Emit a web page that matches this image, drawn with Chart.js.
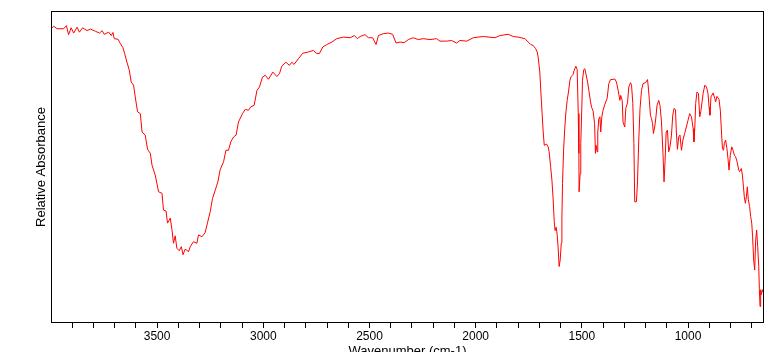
<!DOCTYPE html>
<html>
<head>
<meta charset="utf-8">
<script src="https://cdn.jsdelivr.net/npm/chart.js@4.4.1/dist/chart.umd.min.js"></script>
<style>
  html, body { margin: 0; padding: 0; background: #fff; overflow: hidden; }
  #wrap { position: relative; width: 772px; height: 366px; }
</style>
</head>
<body>
<div id="wrap"><canvas id="ir-chart"></canvas></div>
<script>
// IR spectrum, wavenumber (cm-1)
const wavenumbers = [
    3995, 3987, 3971, 3940, 3927, 3917, 3905, 3893, 3877, 3866,
    3851, 3830, 3814, 3791, 3771, 3759, 3749, 3728, 3716, 3708,
    3702, 3684, 3673, 3661, 3653, 3642, 3631, 3622, 3611, 3603,
    3592, 3579, 3571, 3556, 3545, 3532, 3524, 3509, 3493, 3477,
    3470, 3458, 3451, 3438, 3430, 3423, 3415, 3407, 3396, 3386,
    3378, 3368, 3352, 3344, 3329, 3313, 3305, 3289, 3274, 3263,
    3250, 3239, 3226, 3214, 3203, 3187, 3176, 3164, 3153, 3140,
    3128, 3117, 3098, 3085, 3070, 3059, 3043, 3030, 3018, 3004,
    2991, 2976, 2955, 2936, 2924, 2913, 2894, 2877, 2866, 2855,
    2835, 2814, 2788, 2764, 2751, 2736, 2720, 2701, 2677, 2654,
    2623, 2591, 2571, 2557, 2544, 2521, 2505, 2485, 2469, 2458,
    2435, 2411, 2391, 2375, 2356, 2337, 2317, 2294, 2270, 2247,
    2215, 2184, 2168, 2137, 2113, 2090, 2074, 2042, 2011, 1964,
    1909, 1886, 1847, 1823, 1800, 1768, 1757, 1741, 1729, 1718,
    1710, 1706, 1698, 1693, 1687, 1682, 1677, 1666, 1659, 1654,
    1647, 1641, 1635, 1630, 1626, 1621, 1616, 1612, 1607, 1602,
    1597, 1594, 1591, 1586, 1581, 1575, 1569, 1563, 1556, 1550,
    1541, 1536, 1528, 1522, 1517, 1514, 1513, 1508, 1505, 1500,
    1497, 1491, 1486, 1481, 1473, 1467, 1459, 1454, 1447, 1440,
    1436, 1433, 1428, 1425, 1420, 1415, 1411, 1406, 1400, 1392,
    1381, 1373, 1365, 1358, 1345, 1337, 1329, 1321, 1317, 1310,
    1306, 1298, 1293, 1285, 1279, 1271, 1266, 1260, 1255, 1251,
    1243, 1238, 1232, 1226, 1219, 1212, 1200, 1191, 1188, 1182,
    1177, 1172, 1167, 1163, 1157, 1151, 1146, 1138, 1132, 1125,
    1118, 1113, 1108, 1103, 1097, 1091, 1085, 1078, 1072, 1066,
    1059, 1055, 1050, 1044, 1038, 1031, 1024, 1016, 1008, 1000,
    992, 984, 976, 972, 968, 964, 958, 951, 945, 940,
    934, 929, 921, 913, 906, 901, 897, 892, 882, 874,
    870, 864, 854, 848, 843, 838, 833, 829, 823, 817,
    812, 807, 801, 794, 788, 782, 776, 769, 761, 757,
    749, 744, 739, 735, 730, 725, 721, 716, 710, 705,
    700, 696, 691, 686, 682, 677, 672, 667, 664, 661,
    658, 655, 650, 647
];

// relative absorbance (0-100, top of the frame = 100)
const absorbance = [
    94.9, 95.4, 94.6, 94.6, 95.6, 92.7, 94.9, 93.2, 95.1, 93.5,
    94.9, 94.0, 94.5, 93.8, 93.2, 94.0, 92.8, 93.5, 92.4, 93.4,
    91.4, 91.2, 89.8, 88.5, 86.6, 83.8, 81.2, 77.4, 76.4, 72.6,
    67.8, 67.2, 61.3, 60.3, 55.7, 54.4, 50.6, 47.4, 42.0, 41.5,
    36.1, 35.8, 31.9, 33.5, 29.7, 25.4, 27.8, 23.8, 23.0, 24.3,
    21.7, 23.5, 22.7, 24.3, 25.9, 25.4, 28.1, 27.5, 28.8, 31.9,
    35.6, 39.9, 42.6, 45.2, 49.2, 51.7, 55.4, 55.4, 58.1, 59.7,
    60.3, 64.5, 67.2, 68.6, 68.3, 69.4, 69.9, 74.7, 75.8, 79.0,
    79.6, 78.3, 80.6, 79.2, 80.1, 82.5, 83.8, 82.8, 83.8, 83.1,
    84.9, 86.7, 87.1, 87.6, 86.7, 86.6, 88.7, 89.5, 90.3, 91.4,
    91.9, 91.7, 92.4, 91.4, 92.1, 92.7, 91.7, 91.7, 89.5, 92.4,
    93.0, 93.2, 92.8, 90.0, 90.3, 90.1, 91.1, 91.7, 91.1, 91.4,
    91.1, 91.4, 90.6, 90.6, 90.8, 90.0, 90.8, 90.6, 91.7, 92.1,
    91.7, 92.4, 92.8, 92.1, 91.9, 91.4, 90.6, 89.5, 89.2, 88.2,
    87.1, 85.5, 80.6, 74.2, 67.2, 61.3, 57.0, 57.4, 56.5, 54.9,
    50.1, 45.8, 39.4, 32.4, 29.5, 30.6, 28.1, 24.3, 17.9, 20.0,
    25.4, 33.5, 44.7, 55.4, 61.9, 67.8, 71.5, 74.2, 78.0, 79.2,
    79.9, 81.2, 82.5, 81.4, 67.2, 54.4, 42.0, 47.9, 57.6, 69.4,
    78.0, 81.4, 81.7, 80.1, 77.4, 74.7, 71.0, 69.2, 68.1, 64.0,
    54.4, 57.0, 54.9, 61.3, 65.6, 66.2, 61.3, 66.2, 68.3, 70.2,
    72.1, 76.9, 78.2, 78.2, 78.4, 77.4, 74.7, 71.5, 73.1, 71.5,
    64.5, 62.9, 68.9, 70.7, 75.8, 77.2, 76.4, 70.5, 57.6, 38.8,
    38.8, 45.2, 58.7, 68.9, 74.7, 76.9, 77.2, 78.2, 76.4, 71.5,
    66.7, 65.6, 64.0, 60.8, 62.9, 66.2, 69.9, 71.5, 69.9, 64.5,
    54.4, 45.2, 52.2, 61.3, 61.9, 54.9, 56.5, 60.3, 66.7, 68.9,
    68.5, 61.3, 55.7, 59.7, 60.3, 55.4, 58.7, 60.8, 62.9, 65.1,
    67.2, 66.2, 62.4, 58.1, 62.9, 70.5, 74.2, 73.7, 66.2, 67.8,
    71.0, 73.7, 76.4, 75.8, 73.7, 69.4, 66.7, 72.6, 73.9, 72.1,
    71.0, 72.8, 71.8, 68.3, 61.9, 56.0, 55.4, 57.6, 58.7, 56.0,
    52.8, 49.0, 53.8, 56.5, 55.4, 53.8, 53.3, 51.7, 49.0, 48.5,
    49.5, 47.4, 43.6, 40.4, 38.3, 40.4, 43.6, 39.4, 37.2, 34.0,
    31.9, 27.5, 20.0, 16.8, 25.9, 29.7, 24.3, 17.9, 10.4, 5.0,
    10.4, 8.8, 10.4, 9.7
];

// axis range and labelled ticks
const xMin = 647;
const xMax = 3995;
const labelledTicks = [3500, 3000, 2500, 2000, 1500, 1000];

const points = wavenumbers.map((wn, i) => ({ x: wn, y: absorbance[i] }));

const fontFamily = 'Arial, "Liberation Sans", sans-serif';

// black frame round the plot area
const framePlugin = {
    id: 'frame',
    afterDraw(chart) {
        const a = chart.chartArea;
        const c = chart.ctx;
        c.save();
        c.strokeStyle = '#000';
        c.lineWidth = 1;
        c.strokeRect(Math.round(a.left) - 0.5, Math.round(a.top) - 0.5,
            Math.round(a.right - a.left) + 1, Math.round(a.bottom - a.top) + 1);
        c.restore();
    }
};

const ctx = document.getElementById('ir-chart').getContext('2d');
const irChart = new Chart(ctx, {
    type: 'line',
    data: {
        datasets: [{
            label: 'Spectrum',
            data: points,
            borderColor: '#ff0000',
            borderWidth: 1,
            pointRadius: 0,
            tension: 0,
            fill: false
        }]
    },
    options: {
        responsive: true,
        maintainAspectRatio: false,
        animation: false,
        layout: {
            padding: { top: 12, right: 9, left: 0, bottom: 0 }
        },
        plugins: {
            legend: { display: false },
            tooltip: { enabled: false }
        },
        scales: {
            x: {
                type: 'linear',
                reverse: true,
                min: xMin,
                max: xMax,
                afterFit: (scale) => { scale.height = 44; },
                ticks: {
                    stepSize: 100,
                    includeBounds: false,
                    autoSkip: false,
                    maxRotation: 0,
                    padding: 1,
                    color: '#000',
                    font: { family: fontFamily, size: 12 },
                    callback: (value) => labelledTicks.includes(value) ? String(value) : ''
                },
                grid: {
                    display: true,
                    drawOnChartArea: false,
                    drawTicks: true,
                    tickLength: 6,
                    color: '#000',
                    lineWidth: 1
                },
                border: { display: false },
                title: {
                    display: true,
                    text: 'Wavenumber (cm-1)',
                    color: '#000',
                    font: { family: fontFamily, size: 13 },
                    padding: { top: 0, bottom: 7 }
                }
            },
            y: {
                min: 0,
                max: 100,
                afterFit: (scale) => { scale.width = 52; },
                ticks: { display: false },
                grid: { display: false },
                border: { display: false },
                title: {
                    display: true,
                    text: 'Relative Absorbance',
                    color: '#000',
                    font: { family: fontFamily, size: 13 },
                    padding: { top: 34, bottom: 0 }
                }
            }
        }
    },
    plugins: [framePlugin]
});
</script>
</body>
</html>
